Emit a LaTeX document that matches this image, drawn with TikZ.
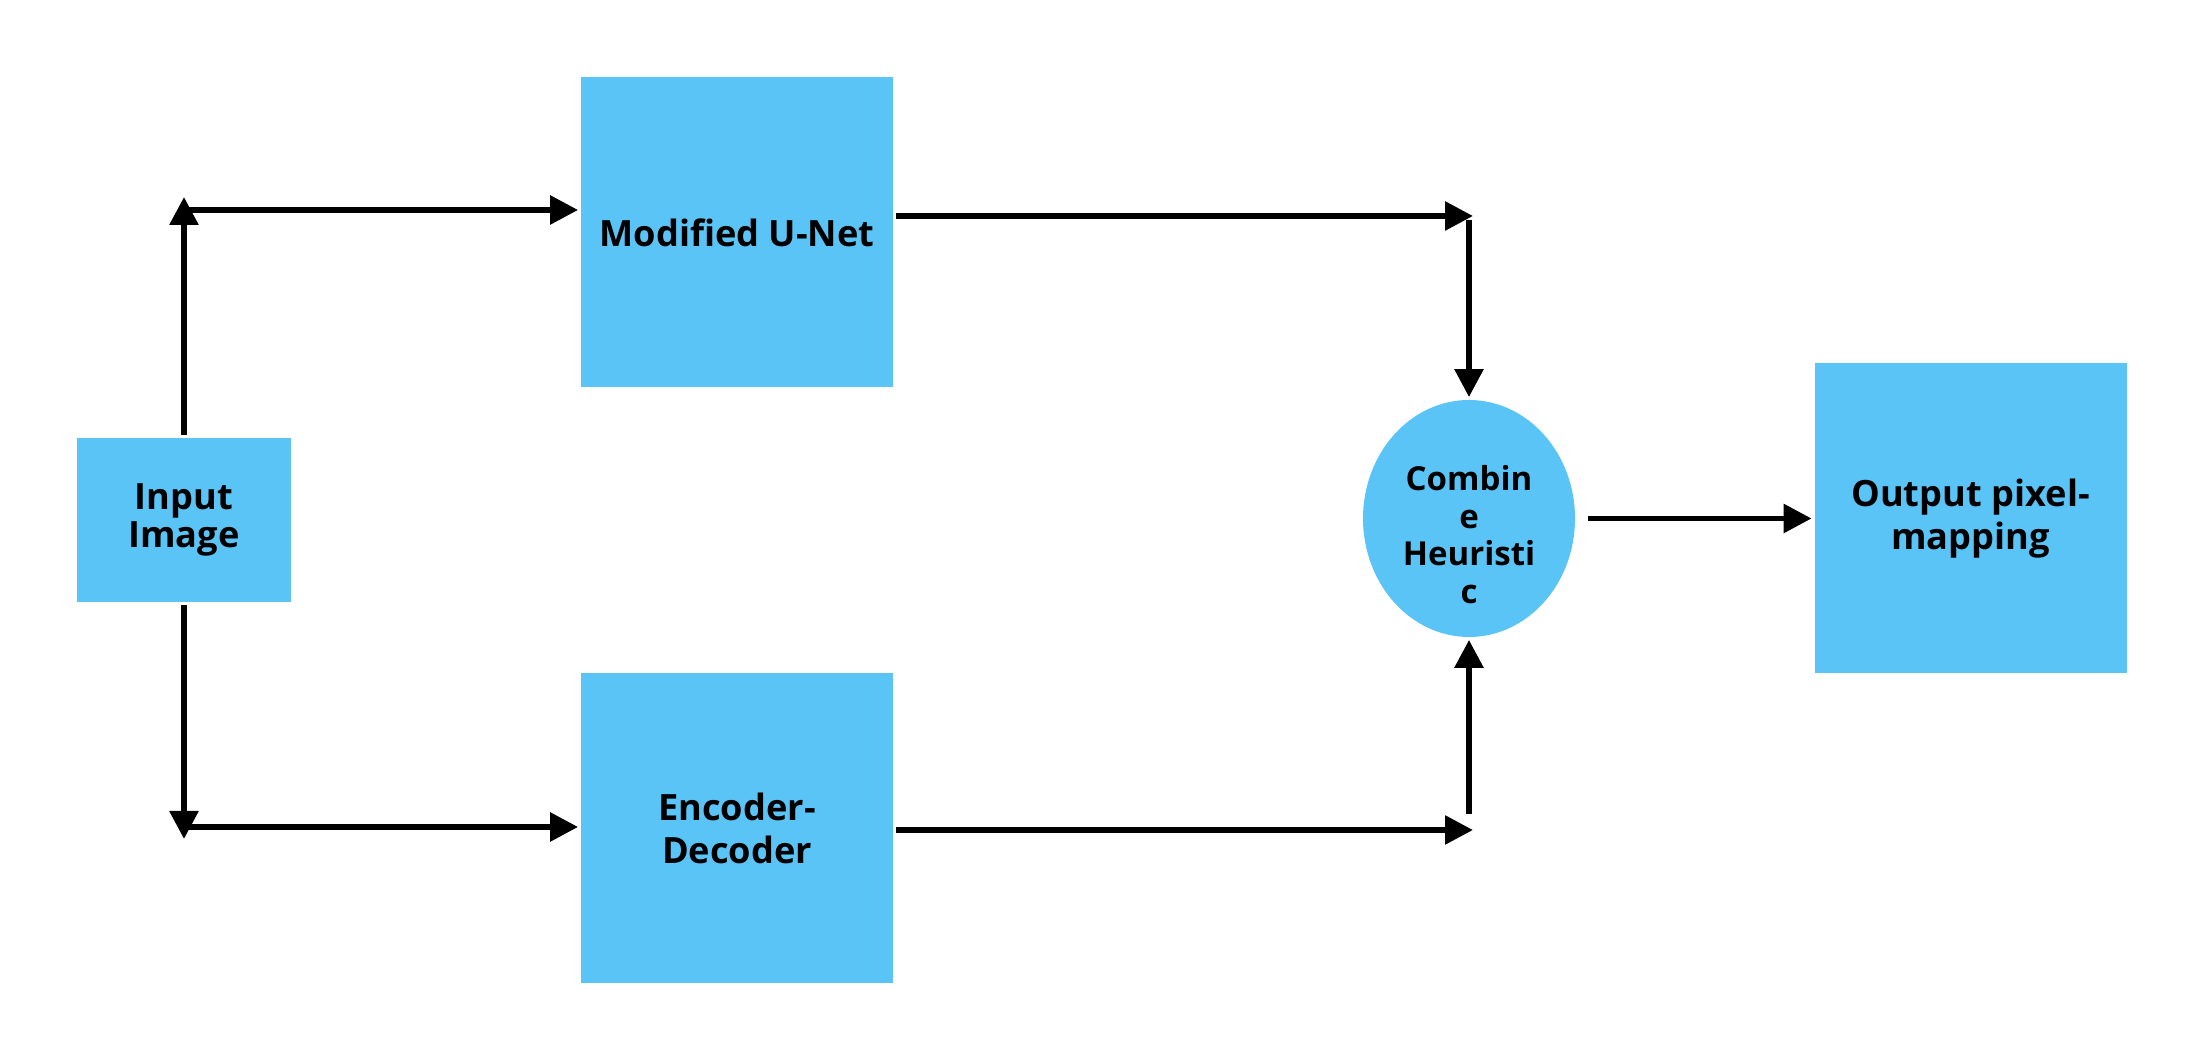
\documentclass[tikz,border=0pt]{standalone}
\usepackage{fontspec}
\setmainfont{Open Sans}
\usetikzlibrary{arrows.meta,positioning,shapes.geometric}
\definecolor{boxblue}{HTML}{5AC4F6}

\begin{document}
\begin{tikzpicture}[line width=1.65pt,
 box/.style={fill=boxblue,minimum width=3.12cm,minimum height=3.1cm,inner sep=0pt,
 align=center,font=\bfseries\fontsize{10.3}{12.4}\selectfont},
 blob/.style={ellipse,fill=boxblue,minimum width=2.12cm,minimum height=2.37cm,inner sep=0pt},
 >={Triangle[length=.28cm,width=.28cm]}]
\useasboundingbox (0,0) rectangle (22.05,10.63);
\node[box,minimum width=2.14cm,minimum height=1.64cm,font=\bfseries\fontsize{10.3}{10.8}\selectfont] (in) at (1.84,5.43) {Input\\Image};
\node[box] (unet) at (7.37,8.305) {Modified U-Net};
\node[box] (encdec) at (7.37,2.345) {Encoder-\\Decoder};
\node[blob,label={[yshift=-.16cm,align=center,font=\bfseries\fontsize{9.4}{10.7}\selectfont]center:Combin\\e\\Heuristi\\c}] (comb) at (14.69,5.445) {};
\node[box] (out) at (19.705,5.445) {Output pixel-\\mapping};
% split points and merge points
\coordinate (inT) at (1.84,8.66);
\coordinate (inTH) at (1.84,8.53);
\coordinate (inB) at (1.84,2.24);
\coordinate (inBH) at (1.84,2.36);
\coordinate (unetR) at (14.73,8.47);
\coordinate (combT) at (14.69,8.43);
\coordinate (encR) at (14.73,2.33);
\coordinate (combB) at (14.69,2.49);
\foreach \x/\y in {in/inT,in/inB,unetR -| unet.east/unetR,encR -| encdec.east/encR,combT/comb.north,combB/comb.south}
 \draw[->] (\x)--(\y);
\draw[->] (inTH)--(inTH -| unet.west);
\draw[->] (inBH)--(inBH -| encdec.west);
\draw[->,shorten <=.1cm] (comb)--(out);
\end{tikzpicture}
\end{document}
